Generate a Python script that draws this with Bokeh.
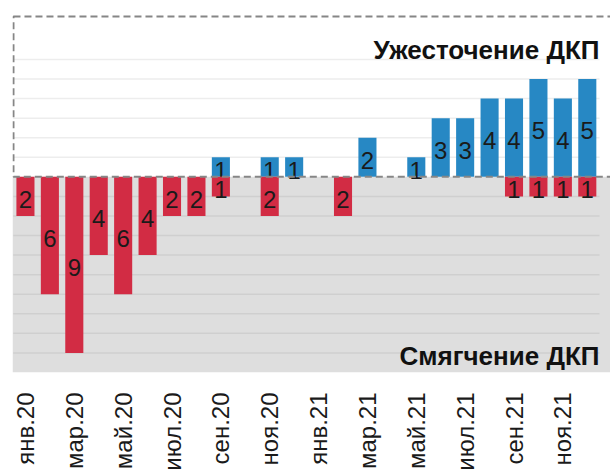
import math
from bokeh.plotting import figure
from bokeh.models import ColumnDataSource, Range1d, FixedTicker, BoxAnnotation, Label
from bokeh.core.properties import value
from bokeh.embed import file_html
from bokeh.resources import INLINE

# ---- data ----
months = ["янв.20", "фев.20", "мар.20", "апр.20", "май.20", "июн.20",
          "июл.20", "авг.20", "сен.20", "окт.20", "ноя.20", "дек.20",
          "янв.21", "фев.21", "мар.21", "апр.21", "май.21", "июн.21",
          "июл.21", "авг.21", "сен.21", "окт.21", "ноя.21", "дек.21"]
tightening = [0, 0, 0, 0, 0, 0, 0, 0, 1, 0, 1, 1,
              0, 0, 2, 0, 1, 3, 3, 4, 4, 5, 4, 5]
easing = [2, 6, 9, 4, 6, 4, 2, 2, 1, 0, 2, 0,
          0, 2, 0, 0, 0, 0, 0, 0, 1, 1, 1, 1]
tick_months = months[::2]
grid_up = [1, 2, 3, 4, 5, 6]
grid_down = [-1, -2, -3, -4, -5, -6, -7, -8, -9]
title_up = "Ужесточение ДКП"
title_down = "Смягчение ДКП"

BLUE = "#2788c4"
RED = "#d22c44"
FONT = "Liberation Sans"
n = len(months)

up_idx = [i for i, v in enumerate(tightening) if v]
dn_idx = [i for i, v in enumerate(easing) if v]
up_src = ColumnDataSource(dict(x=up_idx, top=[tightening[i] for i in up_idx],
                               mid=[tightening[i] / 2 for i in up_idx],
                               lbl=[str(tightening[i]) for i in up_idx]))
dn_src = ColumnDataSource(dict(x=dn_idx, bottom=[-easing[i] for i in dn_idx],
                               mid=[-easing[i] / 2 for i in dn_idx],
                               lbl=[str(easing[i]) for i in dn_idx]))

p = figure(width=610, height=473, output_backend="svg", toolbar_location=None,
           x_range=Range1d(-0.53, 23.95), y_range=Range1d(-10, 8.3),
           min_border_left=12, min_border_right=0, min_border_top=14,
           min_border_bottom=97)
p.xgrid.visible = False
p.ygrid.visible = False
p.yaxis.visible = False
p.outline_line_color = None
p.background_fill_color = "white"
p.border_fill_color = "white"

# grey easing zone
p.add_layout(BoxAnnotation(top=0, fill_color="#dedede", fill_alpha=1,
                           line_color=None, level="underlay"))

# grid lines
p.segment(x0=[-0.5] * len(grid_up), x1=[n - 0.5] * len(grid_up), y0=grid_up, y1=grid_up,
          line_color="#ededed", line_width=1.5)
p.segment(x0=[-0.5] * len(grid_down), x1=[n - 0.5] * len(grid_down), y0=grid_down, y1=grid_down,
          line_color="#cfcfcf", line_width=1.5)

# bars
p.vbar(x="x", top="top", bottom=0, width=0.74, fill_color=BLUE, line_color=None, source=up_src)
p.text(x="x", y="mid", text="lbl", source=up_src, text_align="center", text_baseline="middle",
       text_font=value(FONT), text_font_size="24px", text_color="#1a1a1a", y_offset=3)
p.vbar(x="x", top=0, bottom="bottom", width=0.74, fill_color=RED, line_color=None, source=dn_src)
p.text(x="x", y="mid", text="lbl", source=dn_src, text_align="center", text_baseline="middle",
       text_font=value(FONT), text_font_size="24px", text_color="#1a1a1a", y_offset=3)

# dashed box for tightening zone
p.add_layout(BoxAnnotation(left=-0.49, right=24.5, bottom=0, top=8.2,
                           fill_alpha=0, line_alpha=1,
                           line_color="#868686", line_width=2, line_dash="7 4"))

p.add_layout(Label(x=n - 0.5, y=6.5, text=title_up, text_align="right",
                   text_baseline="alphabetic", text_font=FONT, text_font_size="26px",
                   text_font_style="bold", text_color="#111111"))
p.add_layout(Label(x=n - 0.5, y=-9.14, text=title_down, text_align="right",
                   text_baseline="alphabetic", text_font=FONT, text_font_size="26px",
                   text_font_style="bold", text_color="#111111"))

ax = p.xaxis[0]
ax.ticker = FixedTicker(ticks=list(range(0, n, 2)))
ax.major_label_overrides = {i: months[i] for i in range(0, n, 2)}
ax.major_label_orientation = math.pi / 2
ax.major_label_text_font = FONT
ax.major_label_text_font_size = "24px"
ax.major_label_text_color = "#1a1a1a"
ax.axis_line_color = None
ax.major_tick_line_color = None
ax.minor_tick_line_color = None
ax.major_tick_out = 0
ax.major_tick_in = 0
ax.major_label_standoff = 20

open("out.html", "w").write(file_html(p, INLINE))
